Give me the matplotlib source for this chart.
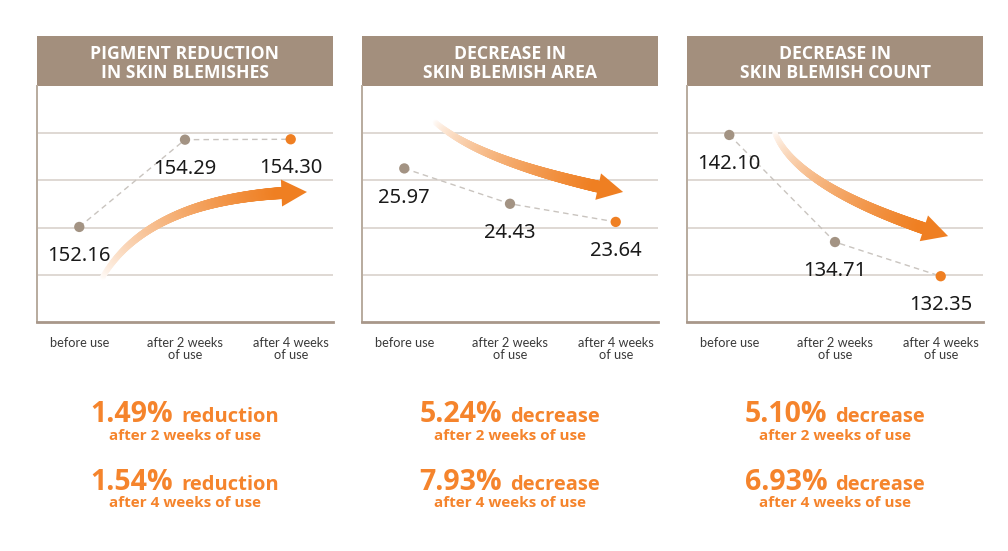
import numpy as np
import matplotlib.pyplot as plt
import matplotlib.colors as mcolors
import matplotlib.transforms as mtransforms
from matplotlib.collections import LineCollection
from matplotlib.patches import Rectangle, Polygon
from matplotlib.offsetbox import TextArea, HPacker, AnnotationBbox

STAGES = ["before use", "after 2 weeks\nof use", "after 4 weeks\nof use"]
TITLES = ["PIGMENT REDUCTION\nIN SKIN BLEMISHES",
          "DECREASE IN\nSKIN BLEMISH AREA",
          "DECREASE IN\nSKIN BLEMISH COUNT"]
PIGMENT = [152.16, 154.29, 154.30]
AREA = [25.97, 24.43, 23.64]
COUNT = [142.10, 134.71, 132.35]
PCT_2W = ["1.49%", "5.24%", "5.10%"]
PCT_4W = ["1.54%", "7.93%", "6.93%"]
WORDS = ["reduction", "decrease", "decrease"]

BROWN = "#a38f7d"
DOT = "#a39383"
ORANGE = "#ef7f22"
TEXT_ORANGE = "#f5842c"
BOLD_FONT = "Open Sans"

# layout in image pixels
W, H = 1008, 551
PANEL_LEFT = [37, 362, 687]
PANEL_W = 296
AX_TOP, AX_BOTTOM = 86, 322
HEADER_TOP = 36
YLIMS = [(149.84, 155.60), (19.28, 29.56), (129.19, 145.48)]

# decorative arrows (axes fraction): tail, bend, tip
ARROWS = [((0.220, 0.186), (0.382, 0.538), (0.912, 0.551)),
          ((0.247, 0.847), (0.402, 0.674), (0.882, 0.551)),
          ((0.297, 0.801), (0.375, 0.559), (0.882, 0.364))]


def draw_arrow(ax, p0, p1, p2):
    size = np.array([PANEL_W, AX_BOTTOM - AX_TOP], dtype=float)
    to_ax = mtransforms.Affine2D().scale(1 / size[0], 1 / size[1]) + ax.transAxes
    p0, p1, p2 = (np.array(p) * size for p in (p0, p1, p2))
    t = np.linspace(0, 1, 300)[:, None]
    pts = (1 - t) ** 2 * p0 + 2 * (1 - t) * t * p1 + t ** 2 * p2
    head_len, head_w = 25, 27
    body = pts[np.linalg.norm(pts - p2, axis=1) >= head_len]
    base = body[-1]
    d = (p2 - base) / np.linalg.norm(p2 - base)
    nrm = np.array([-d[1], d[0]])
    segs = np.stack([body[:-1], body[1:]], axis=1)
    f = np.linspace(0, 1, len(segs))[:, None]
    org = np.array(mcolors.to_rgb(ORANGE))
    cols = 1 + (org - 1) * f ** 0.8
    lws = (5 + 7 * f[:, 0]) * 0.72
    ax.add_collection(LineCollection(segs, colors=cols, linewidths=lws,
                                     capstyle="round", transform=to_ax, zorder=2))
    head = [base + nrm * head_w / 2, p2, base - nrm * head_w / 2]
    ax.add_patch(Polygon(head, closed=True, facecolor=ORANGE, lw=0,
                         transform=to_ax, zorder=2))


def add_summary(fig, ax, pct, word, when, y_big, y_small):
    big = TextArea(pct, textprops=dict(fontsize=20.5, fontweight="bold",
                                       color=TEXT_ORANGE, family=BOLD_FONT))
    small = TextArea(word, textprops=dict(fontsize=14.5, fontweight="bold",
                                          color=TEXT_ORANGE, family=BOLD_FONT))
    box = HPacker(children=[big, small], align="baseline", pad=0, sep=6)
    ab = AnnotationBbox(box, (0.5, 1 - y_big / H),
                        xycoords=("axes fraction", "figure fraction"),
                        box_alignment=(0.5, 0.5), frameon=False, pad=0)
    ax.add_artist(ab)
    tr = mtransforms.blended_transform_factory(ax.transAxes, fig.transFigure)
    ax.text(0.5, 1 - y_small / H, when, transform=tr, ha="center", va="center",
            fontsize=11, fontweight="bold", color=TEXT_ORANGE, family=BOLD_FONT)


fig = plt.figure(figsize=(W / 100, H / 100), dpi=100)
fig.patch.set_facecolor("white")

x = np.arange(len(STAGES))
series = [PIGMENT, AREA, COUNT]
dot_colors = [DOT, DOT, ORANGE]

for i, values in enumerate(series):
    ax = fig.add_axes([PANEL_LEFT[i] / W, 1 - AX_BOTTOM / H,
                       PANEL_W / W, (AX_BOTTOM - AX_TOP) / H])
    ax.set_xlim(-0.4, 2.4)
    ax.set_ylim(*YLIMS[i])
    lo, hi = YLIMS[i]
    ax.set_yticks(np.linspace(lo, hi, 6)[1:5])
    ax.yaxis.grid(True, color="#dcd6d0", lw=1.3)
    ax.set_axisbelow(True)
    ax.tick_params(axis="y", length=0, labelleft=False)
    ax.set_xticks(x)
    ax.set_xticklabels(STAGES, fontsize=9.2, color="#3a3a3a", family="Lato",
                       linespacing=0.95)
    ax.tick_params(axis="x", length=0, pad=11)
    for side in ("top", "right"):
        ax.spines[side].set_visible(False)
    ax.spines["left"].set_color("#b8ab9e")
    ax.spines["left"].set_linewidth(1.4)
    ax.spines["bottom"].set_color("#a8978a")
    ax.spines["bottom"].set_linewidth(2)

    # header
    hh = (AX_TOP - HEADER_TOP) / (AX_BOTTOM - AX_TOP)
    ax.add_patch(Rectangle((0, 1), 1, hh, transform=ax.transAxes,
                           facecolor=BROWN, lw=0, clip_on=False))
    ax.text(0.5, 1 + hh / 2 - 2.5 / (AX_BOTTOM - AX_TOP), TITLES[i],
            transform=ax.transAxes, ha="center", va="center", color="white",
            fontsize=12.7, fontweight="bold", family=BOLD_FONT, linespacing=1.1)

    draw_arrow(ax, *ARROWS[i])

    ax.plot(x, values, color="#c9c4bf", lw=1.0, dashes=(4, 3), zorder=3)
    ax.scatter(x, values, c=dot_colors, s=55, zorder=4, linewidths=0)
    for xi, v in zip(x, values):
        ax.annotate(f"{v:.2f}", (xi, v), xytext=(0, -21),
                    textcoords="offset points", ha="center", va="center",
                    fontsize=14.5, color="#1a1a1a", family="Noto Sans")

    add_summary(fig, ax, PCT_2W[i], WORDS[i], "after 2 weeks of use", 414, 436)
    add_summary(fig, ax, PCT_4W[i], WORDS[i], "after 4 weeks of use", 482, 503)

fig.savefig("out.png", dpi=100, facecolor="white")
